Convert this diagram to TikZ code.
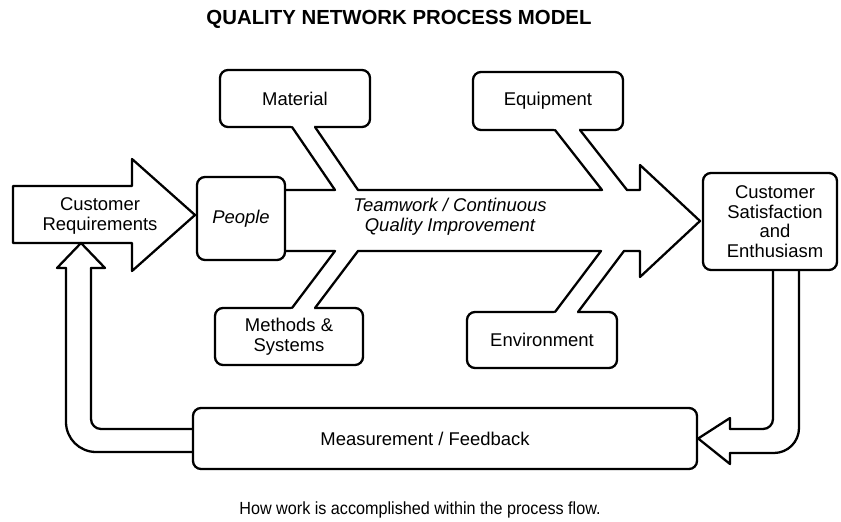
\documentclass[tikz,border=0pt]{standalone}
\usepackage{fontspec}
\setmainfont{Liberation Sans}
\newfontfamily\capfont[FakeStretch=0.92]{Liberation Sans}

\begin{document}
\begin{tikzpicture}[x=0.2mm,y=-0.2mm,line width=1.3pt,line join=round,line cap=round,
        lbl/.style={font=\fontsize{10.5}{11.2}\selectfont},
        itlbl/.style={font=\fontsize{10.5}{11.2}\selectfont\itshape},
        block/.style={draw,fill=white,rounded corners=1.6mm,align=center,inner sep=0pt,lbl}]

  \useasboundingbox (0,0) rectangle (841,522);

  \node[font=\bfseries\fontsize{11.6}{14}\selectfont,anchor=base] (title) at (399,25) {QUALITY NETWORK PROCESS MODEL};

  \node[block,minimum width=30mm,minimum height=11.4mm] (mat) at (295,98.5) {Material};
  \node[block,minimum width=30mm,minimum height=11.6mm] (equ) at (548,101) {Equipment};
  \node[block,minimum width=17.6mm,minimum height=16.6mm,itlbl] (peo) at (241,218.5) {People};
  \node[block,minimum width=29.6mm,minimum height=11.4mm] (met) at (289,336.5) {Methods \&\\Systems};
  \node[block,minimum width=30mm,minimum height=11.2mm] (env) at (542,340) {Environment};
  \node[block,minimum width=26.8mm,minimum height=19.4mm] (sat) at (770,221.5) {\hspace*{2mm}Customer\\\hspace*{2mm}Satisfaction\\\hspace*{2mm}and\\\hspace*{2mm}Enthusiasm};
  \node[block,minimum width=100.8mm,minimum height=12.2mm] (mea) at (445,438.5) {Measurement / Feedback\hspace*{8mm}};

  \draw[fill=white] (13,186) -- (132,186) -- (132,159) -- (195,215) -- (132,271) -- (132,243) -- (13,243) -- cycle;
  \node[lbl,align=center] (req) at (100,216) {Customer\\Requirements};

  \fill[white] (287.9,121) -- (310.9,121) -- (358,190) -- (335,190) -- cycle;
  \fill[white] (550.3,124) -- (575.3,124) -- (627,190) -- (602,190) -- cycle;
  \fill[white] (550.5,318) -- (573.5,318) -- (624,251) -- (601,251) -- cycle;
  \fill[white] (287.5,314) -- (310.5,314) -- (358,251) -- (335,251) -- cycle;

  \draw (peo.east |- 0,190) -- (335,190) -- (292,127)
        (315,127) -- (358,190) -- (602,190) -- (555,130)
        (580,130) -- (627,190) -- (640,190) -- (640,165) -- (700,221) -- (640,277) -- (640,251)
          -- (624,251) -- (578,312)
        (555,312) -- (601,251) -- (358,251) -- (315,308)
        (292,308) -- (335,251) -- (peo.east |- 0,251);
  \node[itlbl,align=center] (team) at (450,217) {Teamwork / Continuous\\Quality Improvement};

  \draw[rounded corners=2mm] (sat.south -| 773,0) -- (773,429) -- (730,429);
  \draw (730,429) -- (730,418) -- (mea.east) -- (730,464) -- (730,453);
  \draw[rounded corners=5mm] (730,453) -- (799,453) -- (sat.south -| 799,0);

  \draw[rounded corners=2mm] (mea.west |- 0,429) -- (91,429) -- (91,268);
  \draw (91,268) -- (105,268) -- (81,243) -- (57,268) -- (66,268);
  \draw[rounded corners=6mm] (66,268) -- (66,452) -- (mea.west |- 0,452);

  \node[font=\capfont\fontsize{10}{12}\selectfont] (note) at (420,510) {How work is accomplished within the process flow.};

\end{tikzpicture}
\end{document}
